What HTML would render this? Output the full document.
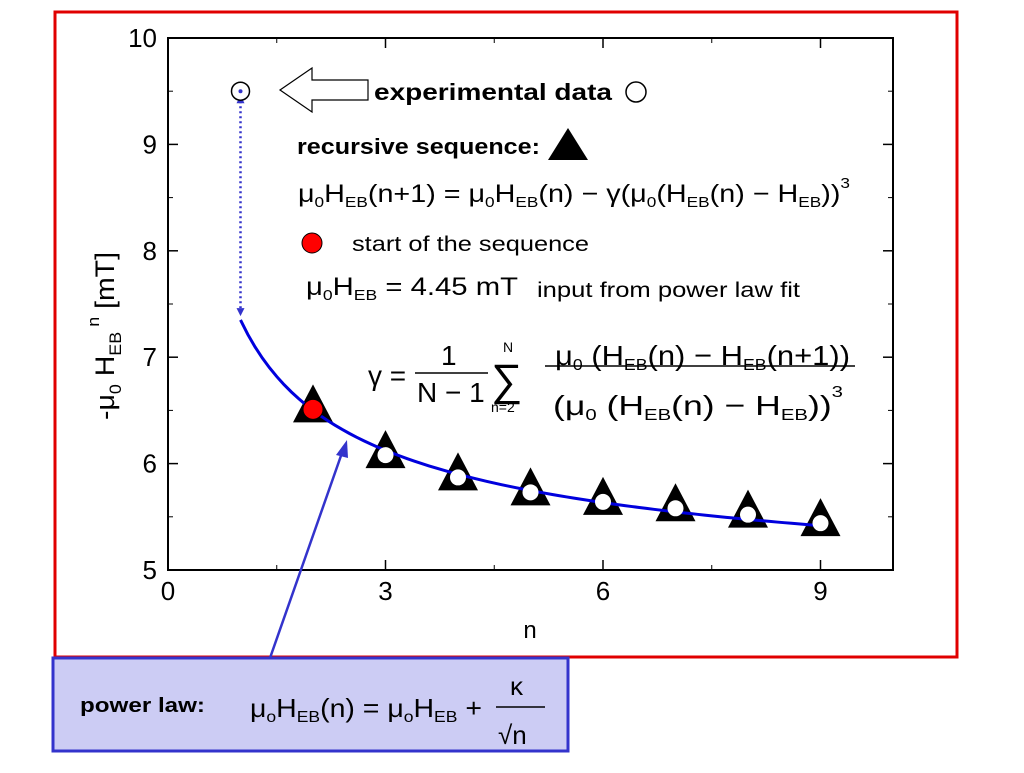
<!DOCTYPE html>
<html><head><meta charset="utf-8"><style>
body{margin:0;width:1024px;height:768px;background:#fff;overflow:hidden;font-family:"Liberation Sans",sans-serif}
svg text{font-family:"Liberation Sans",sans-serif}
</style></head><body>
<svg id="c" width="1024" height="768">
<rect x="55" y="12" width="902" height="645" fill="none" stroke="#e00000" stroke-width="3"/>
<rect x="168" y="38" width="725" height="532" fill="none" stroke="#000" stroke-width="2"/>
<g id="ticks"></g><g id="marks"></g>
<text x="530" y="638" font-size="24" text-anchor="middle">n</text>
<text transform="translate(114,420) rotate(-90)" font-size="27" textLength="168" lengthAdjust="spacingAndGlyphs">-μ<tspan font-size="17" dy="7">0</tspan><tspan dy="-7"> H</tspan><tspan font-size="17" dy="7">EB</tspan><tspan font-size="17" dy="-22"> n</tspan><tspan dy="15"> [mT]</tspan></text>
<polygon points="280,90 312,68 312,80 368,80 368,100 312,100 312,112" fill="#fff" stroke="#000" stroke-width="1.2"/>
<text x="374" y="100" font-size="23" font-weight="bold" textLength="238" lengthAdjust="spacingAndGlyphs">experimental data</text>
<circle cx="636" cy="92" r="10" fill="#fff" stroke="#000" stroke-width="1.5"/>
<text x="297" y="154" font-size="22" font-weight="bold" textLength="243" lengthAdjust="spacingAndGlyphs">recursive sequence:</text>
<polygon points="568,128 548,160 588,160" fill="#000"/>
<text x="298" y="202" font-size="25" textLength="552" lengthAdjust="spacingAndGlyphs">μ<tspan font-size="15" dy="5">0</tspan><tspan dy="-5">H</tspan><tspan font-size="15" dy="5">EB</tspan><tspan dy="-5">(n+1) = μ</tspan><tspan font-size="15" dy="5">0</tspan><tspan dy="-5">H</tspan><tspan font-size="15" dy="5">EB</tspan><tspan dy="-5">(n) − γ(μ</tspan><tspan font-size="15" dy="5">0</tspan><tspan dy="-5">(H</tspan><tspan font-size="15" dy="5">EB</tspan><tspan dy="-5">(n) − H</tspan><tspan font-size="15" dy="5">EB</tspan><tspan dy="-5">))</tspan><tspan font-size="15" dy="-14">3</tspan></text>
<circle cx="312" cy="243" r="10" fill="#f00" stroke="#000"/>
<text x="352" y="251" font-size="21" textLength="237" lengthAdjust="spacingAndGlyphs">start of the sequence</text>
<text x="306" y="295" font-size="25" textLength="212" lengthAdjust="spacingAndGlyphs">μ<tspan font-size="15" dy="5">0</tspan><tspan dy="-5">H</tspan><tspan font-size="15" dy="5">EB</tspan><tspan dy="-5"> = 4.45 mT</tspan></text>
<text x="537" y="297" font-size="21" textLength="263" lengthAdjust="spacingAndGlyphs">input from power law fit</text>
<text x="368" y="385" font-size="28">γ =</text>
<text x="441" y="365" font-size="28">1</text>
<line x1="415" y1="373" x2="488" y2="373" stroke="#000" stroke-width="1.5"/>
<text x="417" y="402" font-size="28">N − 1</text>
<text x="491" y="395" font-size="44">∑</text>
<text x="503" y="352" font-size="14">N</text><text x="491" y="412" font-size="14">n=2</text>
<text x="555" y="365" font-size="28" textLength="295" lengthAdjust="spacingAndGlyphs">μ<tspan font-size="16" dy="5">0</tspan><tspan dy="-5"> (H</tspan><tspan font-size="16" dy="5">EB</tspan><tspan dy="-5">(n) − H</tspan><tspan font-size="16" dy="5">EB</tspan><tspan dy="-5">(n+1))</tspan></text>
<line x1="545" y1="366" x2="855" y2="366" stroke="#000" stroke-width="1.5"/>
<text x="553" y="415" font-size="28" textLength="290" lengthAdjust="spacingAndGlyphs">(μ<tspan font-size="16" dy="5">0</tspan><tspan dy="-5"> (H</tspan><tspan font-size="16" dy="5">EB</tspan><tspan dy="-5">(n) − H</tspan><tspan font-size="16" dy="5">EB</tspan><tspan dy="-5">))</tspan><tspan font-size="16" dy="-18">3</tspan></text>
<line x1="270" y1="658" x2="343" y2="450" stroke="#3333cc" stroke-width="2.5"/>
<polygon points="347,440 336,455 348,458" fill="#3333cc"/>
<rect x="53" y="658" width="515" height="93" fill="#ccccf4" stroke="#3333cc" stroke-width="3"/>
<text x="80" y="712" font-size="20" font-weight="bold" textLength="125" lengthAdjust="spacingAndGlyphs">power law:</text>
<text x="250" y="717" font-size="26" textLength="232" lengthAdjust="spacingAndGlyphs">μ<tspan font-size="16" dy="5">o</tspan><tspan dy="-5">H</tspan><tspan font-size="16" dy="5">EB</tspan><tspan dy="-5">(n) = μ</tspan><tspan font-size="16" dy="5">o</tspan><tspan dy="-5">H</tspan><tspan font-size="16" dy="5">EB</tspan><tspan dy="-5"> +</tspan></text>
<text x="510" y="695" font-size="26">κ</text>
<line x1="496" y1="707" x2="545" y2="707" stroke="#000" stroke-width="1.5"/>
<text x="498" y="744" font-size="26">√n</text>
</svg>
<script>
const xTicks=[0,3,6,9];
const yTicks=[5,6,7,8,9,10];
const seqN=[2,3,4,5,6,7,8,9];
const seqVals=[6.51,6.08,5.87,5.73,5.64,5.58,5.52,5.44];
const expN=[1];
const expVals=[9.5];
const fitParams=[4.45,2.9]; // H_EB^e, kappa
const fitRange=[1,9];
const X=v=>168+v*72.5, Y=v=>570-(v-5)*106.4;
const NS='http://www.w3.org/2000/svg';
function mk(t,a,p){const e=document.createElementNS(NS,t);for(const k in a)e.setAttribute(k,a[k]);p.appendChild(e);return e;}
const T=document.getElementById('ticks'),M=document.getElementById('marks');
xTicks.forEach(v=>{mk('line',{x1:X(v),x2:X(v),y1:570,y2:560,stroke:'#000','stroke-width':1.5},T);mk('line',{x1:X(v),x2:X(v),y1:38,y2:48,stroke:'#000','stroke-width':1.5},T);
const t=mk('text',{x:X(v),y:600,'font-size':26,'text-anchor':'middle'},T);t.textContent=v;

});
for(let v=1.5;v<10;v+=3){mk('line',{x1:X(v),x2:X(v),y1:570,y2:565,stroke:'#000'},T);mk('line',{x1:X(v),x2:X(v),y1:38,y2:43,stroke:'#000'},T);}
yTicks.forEach(v=>{mk('line',{x1:168,x2:178,y1:Y(v),y2:Y(v),stroke:'#000','stroke-width':1.5},T);mk('line',{x1:883,x2:893,y1:Y(v),y2:Y(v),stroke:'#000','stroke-width':1.5},T);
const t=mk('text',{x:157,y:Y(v)+9,'font-size':26,'text-anchor':'end'},T);t.textContent=v;

});
for(let v=5.5;v<10;v+=1){mk('line',{x1:168,x2:173,y1:Y(v),y2:Y(v),stroke:'#000'},T);mk('line',{x1:888,x2:893,y1:Y(v),y2:Y(v),stroke:'#000'},T);}
const dl=mk('line',{x1:X(expN[0]),x2:X(expN[0]),y1:Y(expVals[0])+10,y2:Y(fitParams[0]+fitParams[1])-12,stroke:'#3333cc','stroke-width':2.5,'stroke-dasharray':'2,3'},M);


mk('polygon',{points:`${X(1)-4},${Y(expVals[0])+12} ${X(1)+4},${Y(expVals[0])+12} ${X(1)},${Y(expVals[0])+4}`,fill:'#3333cc'},M);
mk('polygon',{points:`${X(1)-4},${Y(7.33)-14} ${X(1)+4},${Y(7.33)-14} ${X(1)},${Y(7.33)-6}`,fill:'#3333cc'},M);
seqN.forEach((n,i)=>{const x=X(n),y=Y(seqVals[i]);
const tr=mk('polygon',{points:`${x},${y-25} ${x-20},${y+13} ${x+20},${y+13}`,fill:'#000'},M);

});
let d='';for(let i=0;i<=80;i++){const n=fitRange[0]+(fitRange[1]-fitRange[0])*i/80;d+=(i?'L':'M')+X(n)+','+Y(fitParams[0]+fitParams[1]/Math.sqrt(n));}
const cv=mk('path',{d,fill:'none',stroke:'#0000dd','stroke-width':3},M);


seqN.forEach((n,i)=>{const c=mk('circle',{cx:X(n),cy:Y(seqVals[i]),r:i==0?10:8,fill:i==0?'#f00':'#fff',stroke:i==0?'#000':'none'},M);

});
expN.forEach((n,i)=>{const c=mk('circle',{cx:X(n),cy:Y(expVals[i]),r:9,fill:'#fff',stroke:'#000','stroke-width':1.5},M);


mk('circle',{cx:X(n),cy:Y(expVals[i]),r:2,fill:'#3333cc'},M);});
</script>
</body></html>
